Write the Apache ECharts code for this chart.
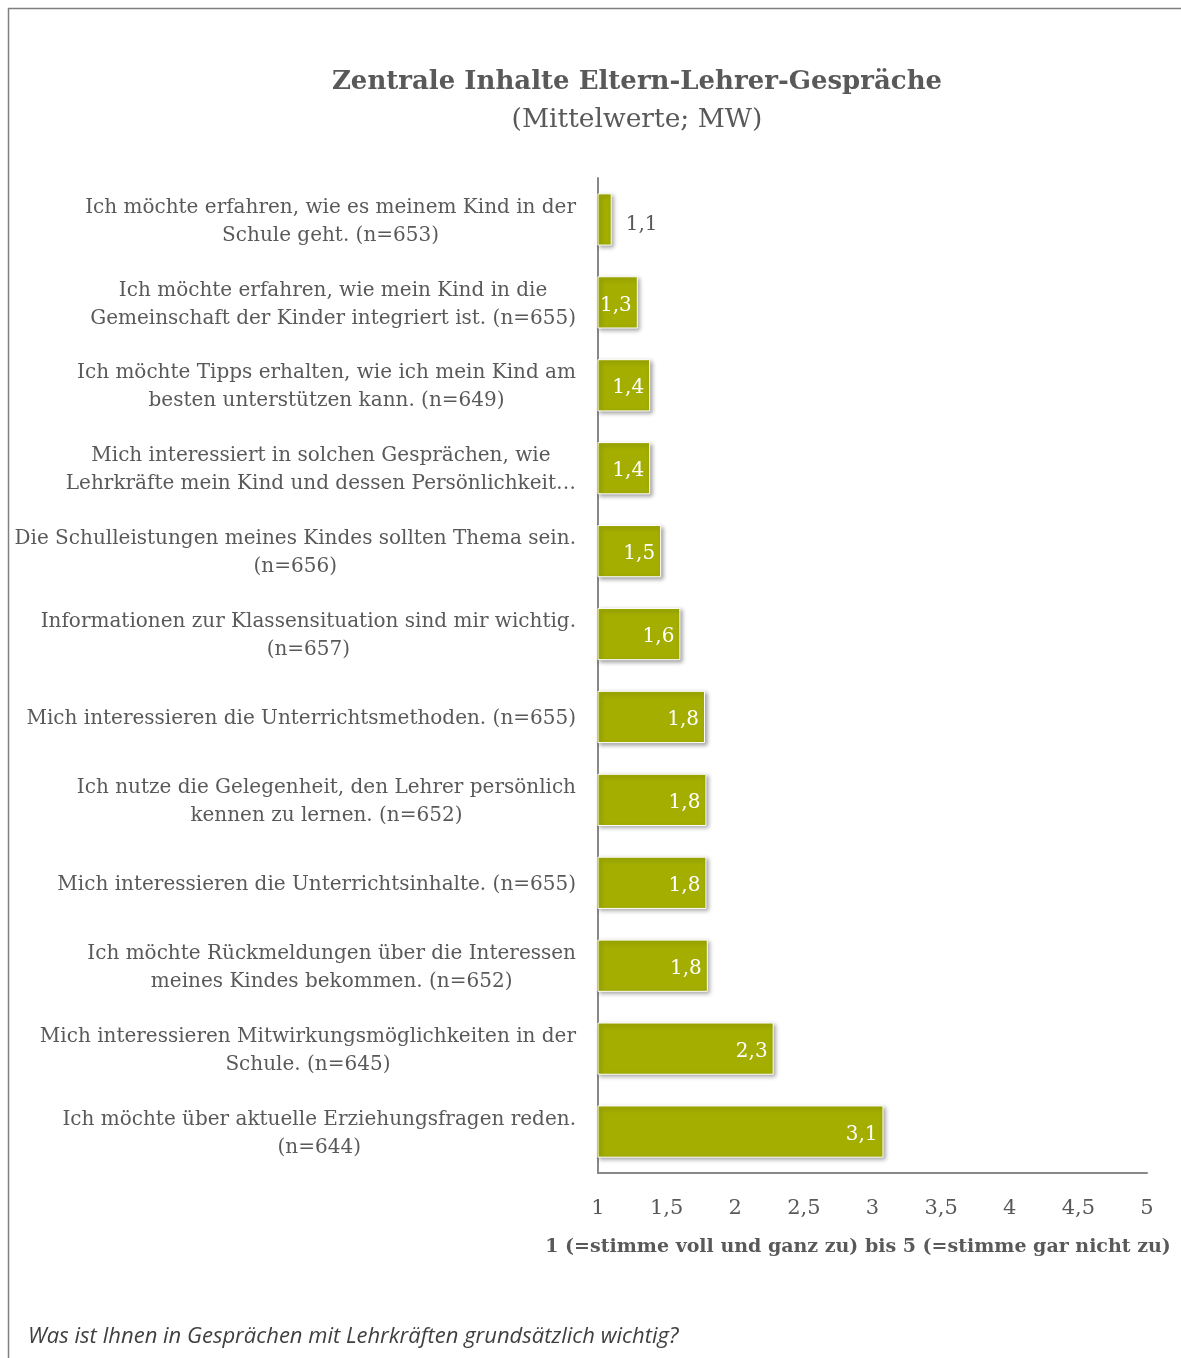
<!DOCTYPE html>
<html>
<head>
<meta charset="utf-8">
<script src="https://cdn.jsdelivr.net/npm/echarts@6/dist/echarts.min.js"></script>
<style>
html,body{margin:0;padding:0;background:#fff;}
#chart{width:1181px;height:1358px;}
</style>
</head>
<body>
<div id="chart"></div>
<script>
var categories = [
  "Ich möchte erfahren, wie es meinem Kind in der\nSchule geht. (n=653)",
  "Ich möchte erfahren, wie mein Kind in die\nGemeinschaft der Kinder integriert ist. (n=655)",
  "Ich möchte Tipps erhalten, wie ich mein Kind am\nbesten unterstützen kann. (n=649)",
  "Mich interessiert in solchen Gesprächen, wie\nLehrkräfte mein Kind und dessen Persönlichkeit…",
  "Die Schulleistungen meines Kindes sollten Thema sein.\n(n=656)",
  "Informationen zur Klassensituation sind mir wichtig.\n(n=657)",
  "Mich interessieren die Unterrichtsmethoden. (n=655)",
  "Ich nutze die Gelegenheit, den Lehrer persönlich\nkennen zu lernen. (n=652)",
  "Mich interessieren die Unterrichtsinhalte. (n=655)",
  "Ich möchte Rückmeldungen über die Interessen\nmeines Kindes bekommen. (n=652)",
  "Mich interessieren Mitwirkungsmöglichkeiten in der\nSchule. (n=645)",
  "Ich möchte über aktuelle Erziehungsfragen reden.\n(n=644)"
];
var meanValues = [1.10, 1.29, 1.38, 1.38, 1.46, 1.60, 1.78, 1.79, 1.79, 1.80, 2.28, 3.08];
var titleText = "Zentrale Inhalte Eltern-Lehrer-Gespräche";
var subtitleText = "(Mittelwerte; MW)";
var axisTitle = "1 (=stimme voll und ganz zu) bis 5 (=stimme gar nicht zu)";
var footnote = "Was ist Ihnen in Gesprächen mit Lehrkräften grundsätzlich wichtig?";

var serif = "'DejaVu Serif', 'Liberation Serif', serif";
var textColor = "#595959";
var barColor = "#a3ae00";

function fmt(v){ return v.toFixed(1).replace('.', ','); }

var chart = echarts.init(document.getElementById('chart'), null, {renderer:'canvas'});
var seriesData = meanValues.map(function(v, i){
  var d = {value: v};
  if (i === 0) {
    d.label = {position: 'right', distance: 14, color: textColor, offset: [0, 5]};
  }
  return d;
});

chart.setOption({
  backgroundColor: '#ffffff',
  animation: false,
  title: [
    {text: titleText, left: 632, top: 64, textAlign: 'center',
     textStyle: {fontFamily: serif, fontWeight: 'bold', fontSize: 26, color: textColor}},
    {text: subtitleText, left: 632, top: 102, textAlign: 'center',
     textStyle: {fontFamily: serif, fontWeight: 'normal', fontSize: 26.5, color: textColor}}
  ],
  grid: {left: 598, right: 34, top: 178, bottom: 185, containLabel: false},
  xAxis: {
    type: 'value', min: 1, max: 5, interval: 0.5,
    axisLine: {show: true, lineStyle: {color: '#888888', width: 2}},
    axisTick: {show: false},
    splitLine: {show: false},
    axisLabel: {margin: 25, fontFamily: serif, fontSize: 21, color: textColor,
      formatter: function(v){ return String(v).replace('.', ','); }}
  },
  yAxis: {
    type: 'category', inverse: true, data: categories,
    axisLine: {show: true, lineStyle: {color: '#888888', width: 2}},
    axisTick: {show: false},
    axisLabel: {margin: 22, color: textColor, align: 'right', interval: 0, padding: [4, 0, 0, 0],
      formatter: function(v){
        return v.split('\n').map(function(l){ return '{c|' + l + '}'; }).join('\n');
      },
      rich: {c: {align: 'center', fontFamily: serif, fontSize: 20, lineHeight: 28, color: textColor}}
    }
  },
  series: [{
    type: 'bar', data: seriesData, barWidth: '63%',
    itemStyle: {color: barColor, borderColor: '#ffffff', borderWidth: 1,
      shadowColor: 'rgba(0,0,0,0.35)', shadowBlur: 4, shadowOffsetX: 2, shadowOffsetY: 2},
    label: {show: true, position: 'insideRight', distance: 6, offset: [0, 3], fontFamily: serif, fontSize: 20,
      color: '#ffffff', formatter: function(p){ return fmt(p.value); }}
  }],
  graphic: [
    {type: 'rect', shape: {x: 8.5, y: 8.5, width: 1300, height: 1500}, style: {fill: 'none', stroke: '#7f7f7f', lineWidth: 1.5}, silent: true},
    {type: 'text', x: 858, y: 1247, style: {text: axisTitle, font: "bold 19px 'DejaVu Serif', serif", fill: textColor, textAlign: 'center', textVerticalAlign: 'middle'}},
    {type: 'text', x: 28, y: 1337, style: {text: footnote, font: "italic 22px 'Open Sans', sans-serif", fill: '#404040', textAlign: 'left', textVerticalAlign: 'middle'}}
  ]
});
</script>
</body>
</html>
